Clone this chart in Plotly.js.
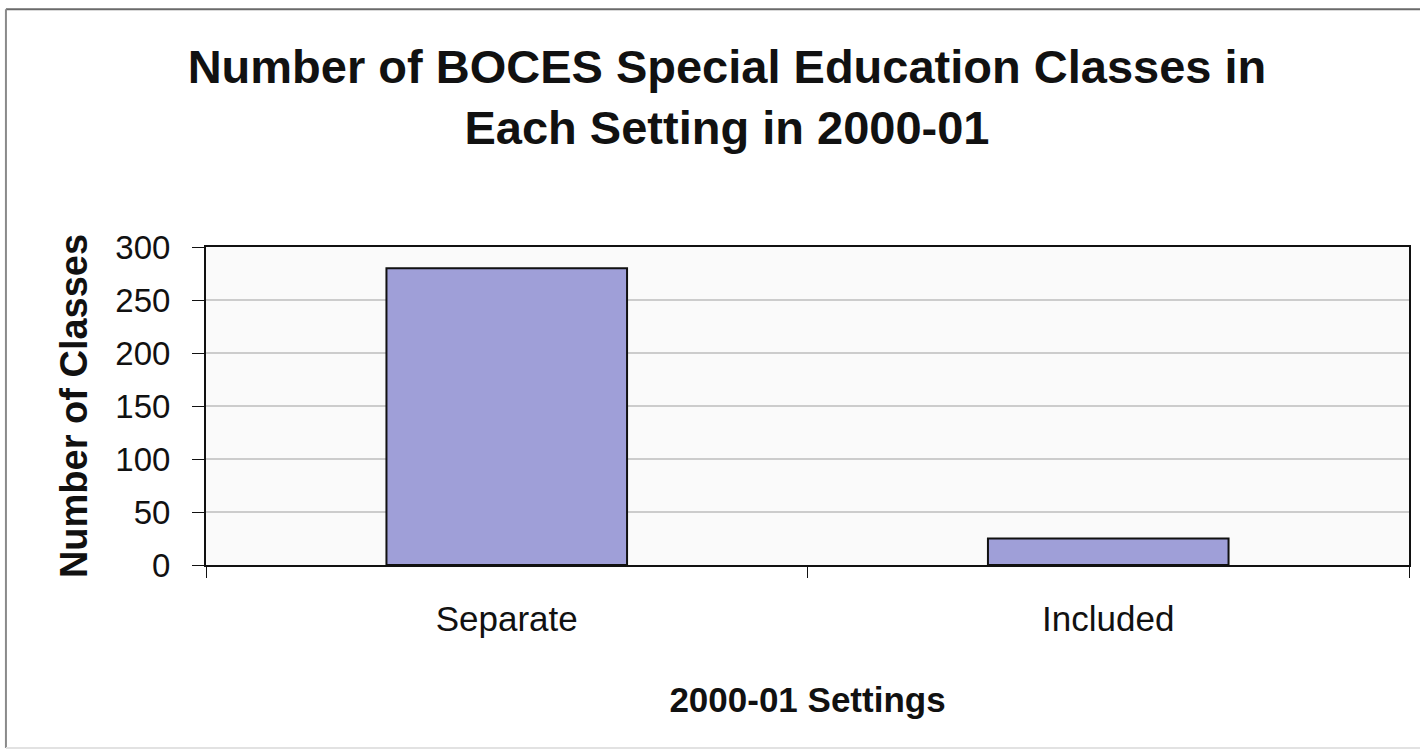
<!DOCTYPE html>
<html>
<head>
<meta charset="utf-8">
<script src="https://cdn.plot.ly/plotly-3.0.1.min.js"></script>
<style>
  html, body { margin: 0; padding: 0; background: #ffffff; }
  #chart { width: 1420px; height: 754px; }
</style>
</head>
<body>
<div id="chart"></div>
<script>
// Class counts by setting, 2000-01
const settings = ["Separate", "Included"];
const classCounts = [280, 25];
const yTickValues = [0, 50, 100, 150, 200, 250, 300];

const FONT = '"Liberation Sans", Arial, Helvetica, sans-serif';

const trace = {
  type: "bar",
  x: settings,
  y: classCounts,
  marker: {
    color: "#9f9fd8",
    line: { color: "#111111", width: 2 }
  },
  hoverinfo: "x+y"
};

// Outer chart frame drawn in paper coordinates around the plot area
const frameLeft = -0.1663, frameTop = 1.748, frameBottom = -0.5755, frameRight = 1.02;

const layout = {
  width: 1420,
  height: 754,
  margin: { l: 206, r: 11, t: 247, b: 189, pad: 0 },
  paper_bgcolor: "#ffffff",
  plot_bgcolor: "#fafafa",
  showlegend: false,
  bargap: 0.6,
  font: { family: FONT, color: "#111111" },
  title: {
    text: "Number of BOCES Special Education Classes in<br>Each Setting in 2000-01",
    font: { family: FONT, size: 47, color: "#111111", weight: "bold" },
    xref: "container",
    x: 727 / 1420,
    xanchor: "center",
    yref: "container",
    y: 1 - 83 / 754,
    yanchor: "top"
  },
  xaxis: {
    type: "category",
    tickson: "boundaries",
    ticks: "outside",
    ticklen: 11,
    tickwidth: 1,
    tickcolor: "#111111",
    showline: true,
    linecolor: "#111111",
    linewidth: 2,
    mirror: true,
    showgrid: false,
    tickfont: { family: FONT, size: 35, color: "#111111" },
    ticklabelstandoff: 22,
    automargin: false,
    title: {
      text: "2000-01 Settings",
      font: { family: FONT, size: 35, color: "#111111", weight: "bold" },
      standoff: 50
    }
  },
  yaxis: {
    range: [0, 300],
    tickvals: yTickValues,
    ticks: "outside",
    ticklen: 12,
    tickwidth: 1,
    tickcolor: "#111111",
    showline: true,
    linecolor: "#111111",
    linewidth: 2,
    mirror: true,
    showgrid: true,
    gridcolor: "#cccccc",
    gridwidth: 1.5,
    zeroline: false,
    tickfont: { family: FONT, size: 33, color: "#111111" },
    ticklabelstandoff: 15,
    automargin: false,
    title: {
      text: "Number of Classes",
      font: { family: FONT, size: 38, color: "#111111", weight: "bold" },
      standoff: 16
    }
  },
  shapes: [
    { type: "line", xref: "paper", yref: "paper", x0: frameLeft, x1: frameRight, y0: frameTop, y1: frameTop,
      line: { color: "#6a6a6a", width: 2 } },
    { type: "line", xref: "paper", yref: "paper", x0: frameLeft, x1: frameLeft, y0: frameTop, y1: frameBottom,
      line: { color: "#8a8a8a", width: 2 } },
    { type: "line", xref: "paper", yref: "paper", x0: frameLeft, x1: frameRight, y0: frameBottom, y1: frameBottom,
      line: { color: "#e2e2e2", width: 2 } }
  ]
};

Plotly.newPlot("chart", [trace], layout, { displayModeBar: false, staticPlot: true });
</script>
</body>
</html>
